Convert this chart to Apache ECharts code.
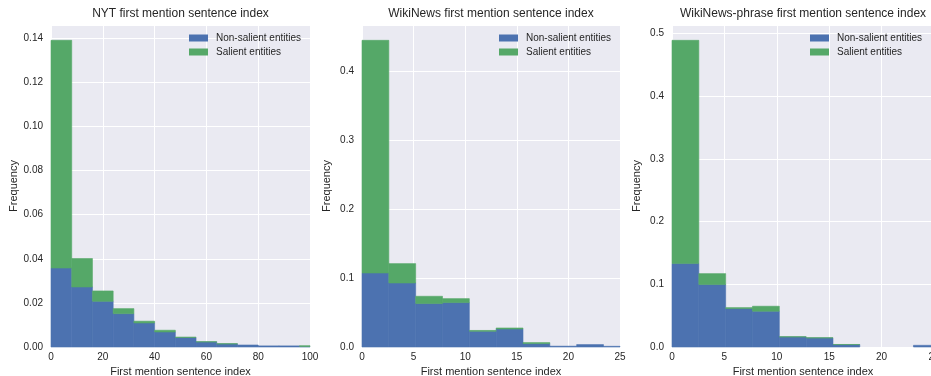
<!DOCTYPE html>
<html>
<head>
<meta charset="utf-8">
<script src="https://cdn.jsdelivr.net/npm/echarts@6/dist/echarts.min.js"></script>
<style>
html,body{margin:0;padding:0;background:#fff;}
#chart{width:931px;height:376px;}
</style>
</head>
<body>
<div id="chart"></div>
<script>
// ---- data ----
const seriesNames = ['Non-salient entities', 'Salient entities'];
const panelTitles = ['NYT first mention sentence index', 'WikiNews first mention sentence index', 'WikiNews-phrase first mention sentence index'];
const xAxisLabel = 'First mention sentence index';
const yAxisLabel = 'Frequency';

const nytEdges = [0, 8, 16, 24, 32, 40, 48, 56, 64, 72, 80, 88, 96, 104];
const nytNonSalient = [0.0358, 0.0272, 0.0207, 0.0151, 0.0109, 0.0068, 0.0043, 0.0023, 0.0014, 0.0009, 0.0005, 0.0005, 0.0002];
const nytSalient =    [0.1032, 0.0129, 0.0047, 0.0023, 0.0008, 0.0008, 0.0002, 0.0001, 0.0001, 0.0000, 0.0000, 0.0000, 0.0004];
const nytXTicks = [0, 20, 40, 60, 80, 100];

const wikiEdges = [0, 2.6, 5.2, 7.8, 10.4, 13, 15.6, 18.2, 20.8, 23.4, 26];
const wikiNonSalient = [0.1074, 0.0929, 0.0630, 0.0644, 0.0228, 0.0261, 0.0049, 0.0012, 0.0035, 0.0010];
const wikiSalient =    [0.3376, 0.0281, 0.0106, 0.0058, 0.0012, 0.0015, 0.0015, 0.0000, 0.0000, 0.0000];
const wikiXTicks = [0, 5, 10, 15, 20, 25];

const phraseEdges = [0, 2.56, 5.12, 7.68, 10.24, 12.8, 15.36, 17.92, 20.48, 23.04, 25.6];
const phraseNonSalient = [0.1330, 0.0995, 0.0612, 0.0570, 0.0160, 0.0144, 0.0038, 0.0000, 0.0000, 0.0027];
const phraseSalient =    [0.3560, 0.0175, 0.0016, 0.0080, 0.0004, 0.0004, 0.0002, 0.0000, 0.0000, 0.0000];
const phraseXTicks = [0, 5, 10, 15, 20, 25];

// ---- styling ----
const BLUE = '#4C72B0', GREEN = '#55A868', BG = '#EAEAF2', TXT = '#262626';
const FONT = '"Liberation Sans", Arial, sans-serif';

const panels = [
  {edges: nytEdges, non: nytNonSalient, sal: nytSalient, xt: nytXTicks, yInt: 0.02, yDec: 2,
   grid: {left: 51, right: 621}, legendLeft: 189},
  {edges: wikiEdges, non: wikiNonSalient, sal: wikiSalient, xt: wikiXTicks, yInt: 0.1, yDec: 1,
   grid: {left: 362, right: 311}, legendLeft: 499},
  {edges: phraseEdges, non: phraseNonSalient, sal: phraseSalient, xt: phraseXTicks, yInt: 0.1, yDec: 1,
   grid: {left: 672, right: -3}, legendLeft: 810}
];

function renderRect(color) {
  return function (params, api) {
    const p0 = api.coord([api.value(0), api.value(3)]);
    const p1 = api.coord([api.value(1), api.value(2)]);
    const rect = echarts.graphic.clipRectByRect(
      {x: p0[0], y: p0[1], width: p1[0] - p0[0], height: p1[1] - p0[1]},
      {x: params.coordSys.x, y: params.coordSys.y, width: params.coordSys.width, height: params.coordSys.height});
    if (!rect || rect.height <= 0) return null;
    return {type: 'rect', shape: rect, style: {fill: color, stroke: color, lineWidth: 0.6}};
  };
}

const grids = [], xAxes = [], yAxes = [], series = [], titles = [], legends = [];
panels.forEach((p, i) => {
  grids.push({left: p.grid.left, right: p.grid.right, top: 25, bottom: 29,
    show: true, backgroundColor: BG, borderWidth: 0, containLabel: false, outerBoundsMode: 'none'});
  const xMin = p.xt[0], xMax = p.xt[p.xt.length - 1];
  const xInt = p.xt[1] - p.xt[0];
  xAxes.push({type: 'value', gridIndex: i, min: xMin, max: xMax, interval: xInt,
    axisLine: {show: false}, axisTick: {show: false},
    splitLine: {show: true, lineStyle: {color: '#ffffff', width: 1}},
    axisLabel: {color: TXT, fontFamily: FONT, fontSize: 10, margin: 5},
    name: xAxisLabel, nameLocation: 'middle', nameGap: 17,
    nameTextStyle: {color: TXT, fontFamily: FONT, fontSize: 11}});
  const totals = p.non.map((v, k) => v + p.sal[k]);
  const yMax = Math.max(...totals) * 1.05;
  yAxes.push({type: 'value', gridIndex: i, min: 0, max: yMax, interval: p.yInt,
    axisLine: {show: false}, axisTick: {show: false},
    splitLine: {show: true, lineStyle: {color: '#ffffff', width: 1}},
    axisLabel: {color: TXT, fontFamily: FONT, fontSize: 10, margin: 8,
      formatter: function (v) {
        const r = v / p.yInt;
        if (Math.abs(r - Math.round(r)) > 1e-6) return '';
        return v.toFixed(p.yDec);
      }},
    name: yAxisLabel, nameLocation: 'middle', nameGap: 30, nameRotate: 90,
    nameTextStyle: {color: TXT, fontFamily: FONT, fontSize: 11}});
  const nonData = p.non.map((v, k) => [p.edges[k], p.edges[k + 1], 0, v]);
  const salData = p.sal.map((v, k) => [p.edges[k], p.edges[k + 1], p.non[k], p.non[k] + v]);
  series.push({type: 'custom', name: seriesNames[0], xAxisIndex: i, yAxisIndex: i,
    renderItem: renderRect(BLUE), itemStyle: {color: BLUE},
    encode: {x: [0, 1], y: [2, 3]}, data: nonData, silent: true});
  series.push({type: 'custom', name: seriesNames[1], xAxisIndex: i, yAxisIndex: i,
    renderItem: renderRect(GREEN), itemStyle: {color: GREEN},
    encode: {x: [0, 1], y: [2, 3]}, data: salData, silent: true});
  const plotRight = 931 - p.grid.right;
  titles.push({text: panelTitles[i], left: (p.grid.left + plotRight) / 2, textAlign: 'center', top: 8, padding: 0,
    textStyle: {color: TXT, fontFamily: FONT, fontSize: 12, fontWeight: 'normal'}});
  legends.push({data: seriesNames, orient: 'vertical', left: p.legendLeft, top: 32, padding: 0,
    itemWidth: 19, itemHeight: 7, itemGap: 2, icon: 'rect', selectedMode: false,
    textStyle: {color: TXT, fontFamily: FONT, fontSize: 10, lineHeight: 12, padding: [0, 0, 0, 3]}});
});

const chart = echarts.init(document.getElementById('chart'), null, {renderer: 'canvas'});
chart.setOption({
  animation: false,
  backgroundColor: '#ffffff',
  title: titles,
  legend: legends,
  grid: grids,
  xAxis: xAxes,
  yAxis: yAxes,
  series: series
});
</script>
</body>
</html>
